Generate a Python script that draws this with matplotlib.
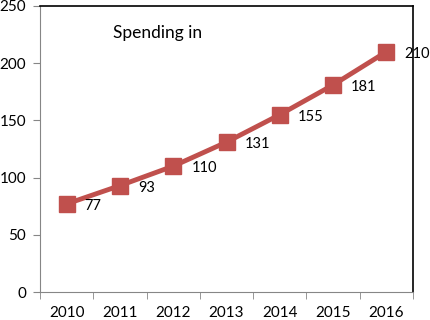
import matplotlib.pyplot as plt

years = ['2010', '2011', '2012', '2013', '2014', '2015', '2016']
spending = [77, 93, 110, 131, 155, 181, 210]

plt.rcParams['font.family'] = ['Lato', 'DejaVu Sans']

fig = plt.figure(figsize=(4.3, 3.2), dpi=100)
ax = fig.add_axes([40 / 430, 28 / 320, 373 / 430, 286 / 320])

xs = range(len(years))
ax.plot(xs, spending, color='#C0504D', lw=3.5, marker='s', ms=11.5, zorder=3)
for x, v in zip(xs, spending):
    ax.annotate(str(v), (x, v), xytext=(13, -1.5), textcoords='offset points',
                ha='left', va='center', fontsize=10.5, annotation_clip=False)

ax.text(0.196, 0.906, 'Spending in', transform=ax.transAxes, fontsize=12.5,
        ha='left', va='center')

ax.set_xlim(-0.5, len(years) - 0.5)
ax.set_ylim(0, 250)
ax.set_yticks(range(0, 251, 50))
ax.set_xticks(xs)
ax.set_xticklabels(years)
ax.set_xticks([i - 0.5 for i in range(len(years) + 1)], minor=True)
ax.tick_params(axis='x', which='major', length=0, pad=10, labelsize=11)
ax.tick_params(axis='x', which='minor', length=5, color='#868686')
ax.tick_params(axis='y', length=5, color='#868686', labelsize=11, pad=5)

for s in ['left', 'bottom']:
    ax.spines[s].set_color('#868686')
for s in ['top', 'right']:
    ax.spines[s].set_color('black')
    ax.spines[s].set_linewidth(1.2)

fig.savefig('out.png', dpi=100)
